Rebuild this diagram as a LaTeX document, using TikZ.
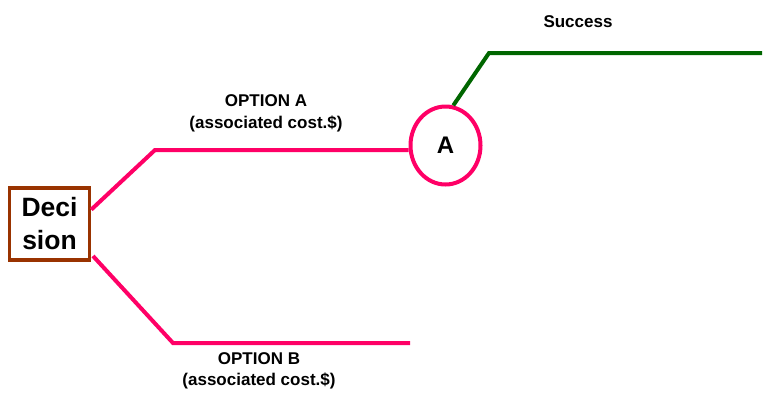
\documentclass[tikz,border=0pt]{standalone}
\usepackage{fontspec}
\setmainfont{Liberation Sans}
\usetikzlibrary{shapes.geometric}
\definecolor{pinkline}{HTML}{FF0066}
\definecolor{greenline}{HTML}{006600}
\definecolor{boxbrown}{HTML}{993300}
\begin{document}
\begin{tikzpicture}[x=1pt,y=-1pt,
  pinkpath/.style={draw=pinkline,line width=4pt},
  greenpath/.style={draw=greenline,line width=4pt},
  lbl/.style={font=\fontsize{17}{21.5}\selectfont\bfseries,align=center,inner sep=0pt},
  decbox/.style={draw=boxbrown,line width=3.5pt,minimum width=80pt,minimum height=72pt,inner sep=0pt,align=center,font=\fontsize{26.5}{33}\selectfont\bfseries},
  chance/.style={ellipse,draw=pinkline,line width=4pt,minimum width=70pt,minimum height=78pt,inner sep=0pt,font=\fontsize{24}{28}\selectfont\bfseries}]
\useasboundingbox (0,0) rectangle (767,397);
\node[decbox] (dec) at (49.5,224) {Deci\\sion};
\node[chance] (A) at (445.5,145.5) {A};
\coordinate (a1) at (155,150);
\coordinate (b0) at (93,256);
\coordinate (b1) at (173,343);
\coordinate (b2) at (410,343);
\coordinate (s1) at (489,53);
\coordinate (s2) at (762,53);
\draw[pinkpath] (dec.19) -- (a1) -- (A.west |- a1);
\draw[pinkpath] (b0) -- (b1) -- (b2);
\draw[greenpath] (A.79) -- (s1) -- (s2);
\node[lbl] (la) at (266,113.5) {OPTION A\\(associated cost.\$)};
\node[lbl] (lb) at (259,371) {OPTION B\\(associated cost.\$)};
\node[lbl] (ls) at (578,22) {Success};
\end{tikzpicture}
\end{document}
